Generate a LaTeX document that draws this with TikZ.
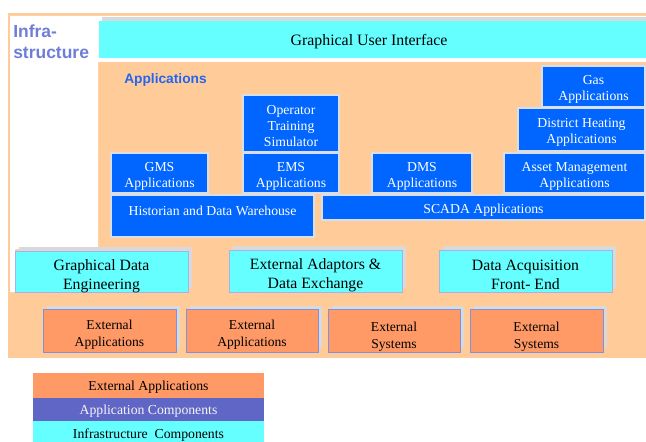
\documentclass[tikz,border=0pt]{standalone}
\usepackage{fontspec}
\setmainfont{Liberation Serif}
\newfontfamily\headsans{Liberation Sans}
\usepackage{tikz}

\definecolor{layerbg}{HTML}{FFCC99}
\definecolor{extorange}{HTML}{FF9966}
\definecolor{infracyan}{HTML}{66FFFF}
\definecolor{appblue}{HTML}{0066FF}
\definecolor{legendpurple}{HTML}{6066C6}
\definecolor{infralabel}{HTML}{6E7ED8}
\definecolor{headblue}{HTML}{2266EE}
\definecolor{shadowgray}{HTML}{D9D9D9}
\definecolor{edgeblue}{HTML}{8090E0}
\definecolor{appedge}{HTML}{D8DEEA}

\begin{document}
\begin{tikzpicture}[x=0.75pt, y=-0.75pt,
    shadowbox/.style={fill=shadowgray, draw=none},
    appbox/.style={fill=appblue, draw=appedge, line width=0.8pt},
    infrabox/.style={fill=infracyan, draw=edgeblue!70, line width=0.6pt},
    extbox/.style={fill=extorange, draw=edgeblue, line width=0.7pt},
    boxlabel/.style={align=center, inner sep=0, yshift=-1.5pt},
    apptext/.style={boxlabel, text=white, font=\fontsize{10.3}{12}\selectfont},
    infratext/.style={boxlabel, font=\fontsize{11.8}{14}\selectfont},
    exttext/.style={boxlabel, font=\fontsize{10.2}{12.75}\selectfont},
    legendtext/.style={boxlabel, font=\fontsize{10.3}{12}\selectfont}]
  \useasboundingbox (0,0) rectangle (646,442);

  % layer background with the white corner for the infrastructure label
  \fill[layerbg] (8,13) rectangle (646,358);
  \fill[white] (10,16) -- (646,16) -- (646,62) -- (98,62) -- (98,249)
    -- (15,249) -- (15,292) -- (10,292) -- cycle;

  \node[anchor=north west, inner sep=0, align=left, text=infralabel,
    font=\headsans\bfseries\fontsize{13.1}{15.75}\selectfont] (infra) at (13,25) {Infra-\\structure};

  % graphical user interface bar
  \fill[shadowbox] (102,17) rectangle (650,55);
  \fill[infracyan] (99,21) rectangle (646,58);
  \node[boxlabel, font=\fontsize{11.9}{14}\selectfont] (gui) at (369,40) {Graphical User Interface};

  \node[anchor=base west, inner sep=0, text=headblue,
    font=\headsans\bfseries\fontsize{10.3}{12}\selectfont] (apps) at (124,84) {Applications};

  % application components
  \draw[appbox] (542,66) rectangle (645,107);
  \node[apptext] (gas) at (593.5,87.5) {Gas\\Applications};
  \draw[appbox] (518,108) rectangle (645,151);
  \node[apptext] (heat) at (581.5,130.5) {District Heating\\Applications};
  \draw[appbox] (243,95) rectangle (339,152);
  \node[apptext] (ots) at (291,124.5) {Operator\\Training\\Simulator};
  \draw[appbox] (111,153) rectangle (208,193);
  \node[apptext] (gms) at (159.5,174) {GMS\\Applications};
  \draw[appbox] (243,153) rectangle (339,193);
  \node[apptext] (ems) at (291,174) {EMS\\Applications};
  \draw[appbox] (372,153) rectangle (472,193);
  \node[apptext] (dms) at (422,174) {DMS\\Applications};
  \draw[appbox] (504,153) rectangle (645,193);
  \node[apptext] (asset) at (574.5,174) {Asset Management\\Applications};
  \draw[appbox] (111,195) rectangle (314,237);
  \node[apptext] (hist) at (212.5,208.5) {Historian and Data Warehouse};
  \draw[appbox] (322,195) rectangle (645,220);
  \node[apptext] (scada) at (483.5,208.5) {SCADA Applications};

  % infrastructure components
  \fill[shadowbox] (19,247) rectangle (192,288);
  \draw[infrabox] (15,251) rectangle (188,292);
  \node[infratext] (gde) at (101.5,274) {Graphical Data\\Engineering};
  \fill[shadowbox] (233,246) rectangle (406,288);
  \draw[infrabox] (229,250) rectangle (402,292);
  \node[infratext] (adapt) at (315.5,273) {External Adaptors \&\\Data Exchange};
  \fill[shadowbox] (443,246) rectangle (616,288);
  \draw[infrabox] (439,250) rectangle (612,292);
  \node[infratext] (daq) at (525.5,273) {Data Acquisition\\Front- End};

  % external applications and systems
  \fill[shadowbox] (47,306) rectangle (180,348);
  \draw[extbox] (43,309) rectangle (176,352);
  \node[exttext] (ext1) at (109.5,333) {External\\Applications};
  \fill[shadowbox] (190,306) rectangle (322,348);
  \draw[extbox] (186,309) rectangle (318,352);
  \node[exttext] (ext2) at (252,333) {External\\Applications};
  \fill[shadowbox] (332,306) rectangle (464,348);
  \draw[extbox] (328,309) rectangle (460,352);
  \node[exttext] (ext3) at (394,334.5) {External\\Systems};
  \fill[shadowbox] (474,306) rectangle (607,348);
  \draw[extbox] (470,309) rectangle (603,352);
  \node[exttext] (ext4) at (536.5,334.5) {External\\Systems};

  % legend
  \fill[extorange] (33,373) rectangle (264,398);
  \node[legendtext] (legext) at (148.5,385.5) {External Applications};
  \fill[legendpurple] (33,398) rectangle (264,421);
  \node[legendtext, text=white!92!gray] (legapp) at (148.5,409.5) {Application Components};
  \fill[infracyan] (33,421) rectangle (264,442);
  \node[legendtext] (leginfra) at (148.5,433.5) {Infrastructure\ \ Components};
\end{tikzpicture}
\end{document}
